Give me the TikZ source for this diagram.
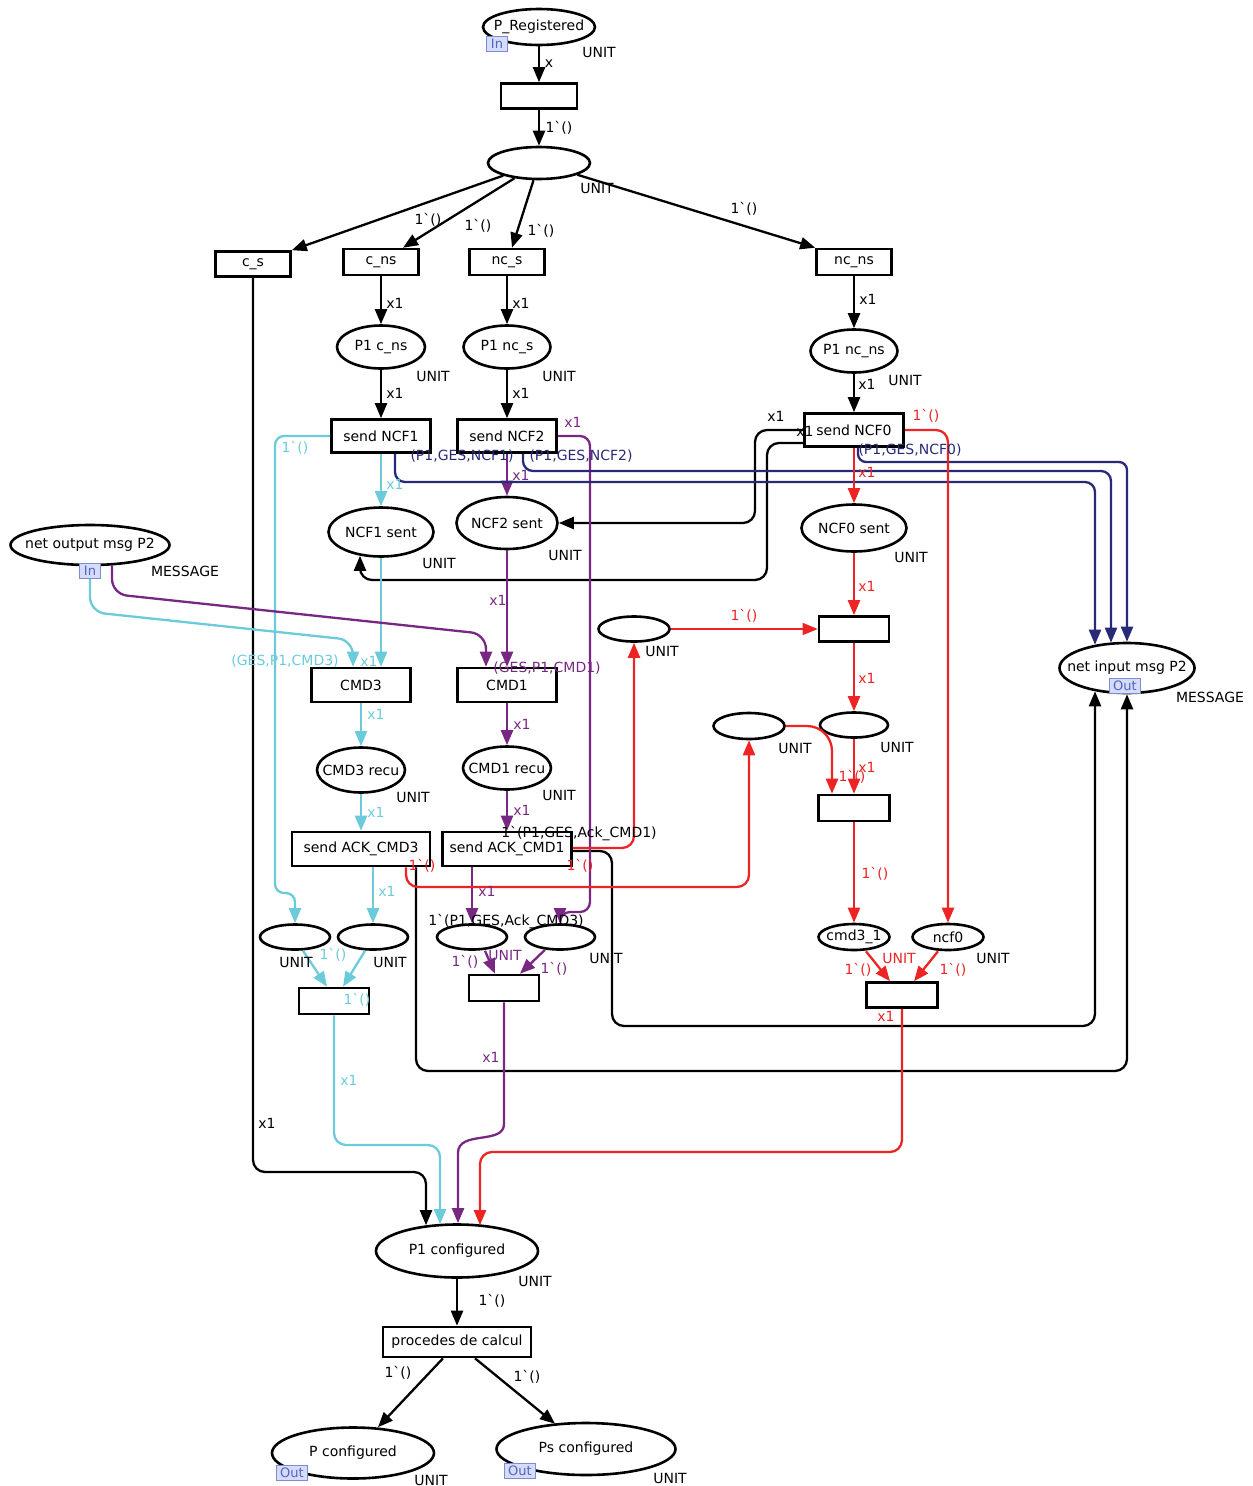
\documentclass[tikz,border=0pt]{standalone}
\usepackage{fontspec}
\newfontfamily\cpnfont{DejaVu Sans}
\usetikzlibrary{shapes.geometric,arrows.meta}
\definecolor{cy}{RGB}{108,203,218}
\definecolor{pu}{RGB}{120,40,130}
\definecolor{nv}{RGB}{40,42,120}
\definecolor{rd}{RGB}{236,36,36}
\definecolor{tagd}{RGB}{120,140,215}
\definecolor{tagf}{RGB}{214,220,245}
\definecolor{tagt}{RGB}{80,100,200}
\newcommand\fs{\cpnfont\fontsize{14}{16}\selectfont}
\newcommand\tk{1\char96()}
\newcounter{lbc}
\newcommand\lbl[3][black]{\stepcounter{lbc}\node[lab,text=#1] (lb\thelbc) at (#2) {#3};}
\tikzset{
 every node/.style={font=\fs},
 pl/.style 2 args={ellipse, draw, line width=2.6pt, minimum width=#1, minimum height=#2, inner sep=0pt, fill=white},
 tr/.style 2 args={rectangle, draw, line width=2.6pt, minimum width=#1, minimum height=#2, inner sep=0pt, fill=white},
 ar/.style={line width=2.3pt, rounded corners=12pt, -{Triangle[length=15pt,width=12pt]}},
 lab/.style={inner sep=0pt, font=\fs},
 tag/.style={draw=tagd, fill=tagf, text=tagt, line width=1pt, inner xsep=4pt, inner ysep=0pt, minimum height=15pt, font=\cpnfont\fontsize{13}{14}\selectfont},
}
\begin{document}
\begin{tikzpicture}[x=1pt,y=-1pt]
\useasboundingbox (0,0) rectangle (1253,1486);
% places
\node[pl={112pt}{36pt},label=center:P\_Registered] (preg) at (539,27) {};
\node[pl={102pt}{32pt}] (p2) at (539,163) {};
\node[pl={88pt}{43pt},label=center:P1 c\_ns] (p1cns) at (381,347) {};
\node[pl={87pt}{43pt},label=center:P1 nc\_s] (p1ncs) at (507,347) {};
\node[pl={87pt}{43pt},label=center:P1 nc\_ns] (p1ncns) at (854,351) {};
\node[pl={105pt}{49pt},label=center:NCF1 sent] (ncf1s) at (381,532) {};
\node[pl={101pt}{52pt},label=center:NCF2 sent] (ncf2s) at (507,523) {};
\node[pl={105pt}{47pt},label=center:NCF0 sent] (ncf0s) at (854,528) {};
\node[pl={159pt}{40pt},label=center:net output msg P2] (netout) at (90,545) {};
\node[pl={135pt}{50pt},label=center:net input msg P2] (netin) at (1127,668) {};
\node[pl={88pt}{45pt},label=center:CMD3 recu] (cmd3r) at (361,770) {};
\node[pl={88pt}{43pt},label=center:CMD1 recu] (cmd1r) at (507,768) {};
\node[pl={70pt}{25pt}] (pA) at (295,937) {};
\node[pl={70pt}{25pt}] (pB) at (373,937) {};
\node[pl={70pt}{25pt}] (pD1) at (472,937) {};
\node[pl={70pt}{25pt}] (pD2) at (560,937) {};
\node[pl={71pt}{25pt}] (pF) at (634,629) {};
\node[pl={71pt}{26pt}] (pH) at (749,726) {};
\node[pl={68pt}{25pt}] (pG) at (854,725) {};
\node[pl={71pt}{26pt},label=center:cmd3\_1] (cmd31) at (854,937) {};
\node[pl={71pt}{26pt},label=center:ncf0] (ncf0) at (948,937) {};
\node[pl={162pt}{53pt},label=center:P1 configured] (p1conf) at (457,1251) {};
\node[pl={162pt}{51pt},label=center:P configured] (pconf) at (353,1453) {};
\node[pl={179pt}{52pt},label=center:Ps configured] (psconf) at (586,1449) {};
% transitions
\node[tr={76pt}{25pt}] (t1) at (539,96) {};
\node[tr={75pt}{25pt}] (cs) at (253,264) {c\_s};
\node[tr={75pt}{26pt}] (cns) at (381,262) {c\_ns};
\node[tr={75pt}{26pt}] (ncs) at (507,262) {nc\_s};
\node[tr={75pt}{26pt}] (ncns) at (854,262) {nc\_ns};
\node[tr={99pt}{33pt}] (sncf1) at (381,436) {send NCF1};
\node[tr={99pt}{33pt}] (sncf2) at (507,436) {send NCF2};
\node[tr={99pt}{33pt}] (sncf0) at (854,430) {send NCF0};
\node[tr={99pt}{34pt}] (cmd3) at (361,685) {CMD3};
\node[tr={99pt}{34pt}] (cmd1) at (507,685) {CMD1};
\node[tr={138pt}{34pt}] (ack3) at (361,849) {send ACK\_CMD3};
\node[tr={129pt}{34pt}] (ack1) at (507,849) {send ACK\_CMD1};
\node[tr={70pt}{26pt}] (tC) at (334,1001) {};
\node[tr={70pt}{26pt}] (tD) at (504,988) {};
\node[tr={70pt}{25pt}] (tE) at (854,629) {};
\node[tr={71pt}{26pt}] (tI) at (854,808) {};
\node[tr={71pt}{25pt}] (tJ) at (902,995) {};
\node[tr={148pt}{30pt}] (proc) at (457,1342) {procedes de calcul};
% black arcs
\draw[ar] (preg) -- (t1);
\draw[ar] (t1) -- (p2);
\draw[ar] (p2) -- (cs.north east);
\draw[ar] (p2) -- ([xshift=22pt]cns.north);
\draw[ar] (p2) -- ([xshift=5pt]ncs.north);
\draw[ar] (p2) -- (ncns.north west);
\draw[ar] (cns) -- (p1cns);
\draw[ar] (p1cns) -- (sncf1);
\draw[ar] (ncs) -- (p1ncs);
\draw[ar] (p1ncs) -- (sncf2);
\draw[ar] (ncns) -- (p1ncns);
\draw[ar] (p1ncns) -- (sncf0);
\draw[ar] (sncf0.west) -- (755,430) -- (755,523) -- (ncf2s.east);
\draw[ar] ([yshift=-13pt]sncf0.west) -- (767,443) -- (767,580) -- (360,580) -- ([xshift=-21pt,yshift=2pt]ncf1s.south);
\draw[ar] (cs.south) -- (253,1172) -- (426,1172) -- ([xshift=-31pt,yshift=-2pt]p1conf.north);
\draw[ar] ([yshift=-2pt]ack1.east) -- (612,851) -- (612,1026) -- (1095,1026) -- ([xshift=-32pt,yshift=3pt]netin.south);
\draw[ar] ([xshift=55pt]ack3.south) -- (416,1071) -- (1127,1071) -- (netin.south);
\draw[ar] (p1conf) -- (proc);
\draw[ar] ([xshift=-14pt]proc.south) -- ([xshift=25pt,yshift=-1pt]pconf.north);
\draw[ar] ([xshift=18pt]proc.south) -- ([xshift=-31pt,yshift=-2pt]psconf.north);
% cyan arcs
\draw[ar,cy] (sncf1) -- (ncf1s);
\draw[ar,cy,rounded corners=9pt] (sncf1.west) -- (275,436) -- (275,893) -- (295,893) -- (pA.north);
\draw[ar,cy] (ncf1s) -- ([xshift=20pt]cmd3.north);
\draw[ar,cy,rounded corners=15pt] (netout.south) -- (90,612) -- (353,640) -- ([xshift=-8pt]cmd3.north);
\draw[ar,cy] (cmd3) -- (cmd3r);
\draw[ar,cy] (cmd3r) -- (ack3.north);
\draw[ar,cy] ([xshift=12pt]ack3.south) -- (pB.north);
\draw[ar,cy] ([xshift=8pt]pA.south) -- ([xshift=-7pt]tC.north);
\draw[ar,cy] ([xshift=-8pt]pB.south) -- ([xshift=9pt]tC.north);
\draw[ar,cy] (tC.south) -- (334,1145) -- (440,1145) -- ([xshift=-17pt,yshift=-1pt]p1conf.north);
% purple arcs
\draw[ar,pu] (sncf2) -- (ncf2s);
\draw[ar,pu,rounded corners=10pt] (sncf2.east) -- (590,436) -- (590,912) -- (560,912) -- (pD2.north);
\draw[ar,pu] (ncf2s) -- (cmd1);
\draw[ar,pu,rounded corners=15pt] ([xshift=22pt,yshift=1pt]netout.south) -- (112,594) -- (486,634) -- ([xshift=-21pt]cmd1.north);
\draw[ar,pu] (cmd1) -- (cmd1r);
\draw[ar,pu] (cmd1r) -- (ack1);
\draw[ar,pu] ([xshift=-35pt]ack1.south) -- (pD1.north);
\draw[ar,pu] ([xshift=13pt]pD1.south) -- ([xshift=-9pt]tD.north);
\draw[ar,pu] ([xshift=-15pt,yshift=1pt]pD2.south) -- ([xshift=16pt]tD.north);
\draw[ar,pu] (tD.south) -- (504,1112) .. controls (504,1145) and (458,1130) .. (458,1165) -- ([xshift=1pt]p1conf.north);
% navy arcs
\draw[ar,nv,rounded corners=10pt] ([xshift=14pt]sncf1.south) -- (395,482) -- (1095,482) -- ([xshift=-32pt,yshift=-3pt]netin.north);
\draw[ar,nv,rounded corners=10pt] ([xshift=16pt]sncf2.south) -- (523,471) -- (1111,471) -- ([xshift=-16pt,yshift=-1pt]netin.north);
\draw[ar,nv,rounded corners=8pt] ([xshift=4pt]sncf0.south) -- (858,462) -- (1127,462) -- (netin.north);
% red arcs
\draw[ar,rd] (sncf0) -- (ncf0s);
\draw[ar,rd] (sncf0.east) -- (948,430) -- (ncf0.north);
\draw[ar,rd] (ncf0s) -- (tE);
\draw[ar,rd,line width=1.2pt] (pF) -- (tE);
\draw[ar,rd] (tE) -- (pG);
\draw[ar,rd,rounded corners=25pt] (pH.east) -- (832,726) -- ([xshift=-22pt]tI.north);
\draw[ar,rd] (pG) -- (tI);
\draw[ar,rd] (tI) -- (cmd31);
\draw[ar,rd] ([xshift=12pt]cmd31.south) -- ([xshift=-12pt]tJ.north);
\draw[ar,rd] ([xshift=-10pt]ncf0.south) -- ([xshift=12pt]tJ.north);
\draw[ar,rd] (tJ.south) -- (902,1152) -- (480,1152) -- ([xshift=23pt,yshift=-2pt]p1conf.north);
\draw[ar,rd] ([yshift=1pt]ack1.east) -- (634,848) -- (pF.south);
\draw[ar,rd] ([xshift=45pt]ack3.south) -- (406,887) -- (749,887) -- (pH.south);
% port tags
\node[tag] (tg1) at (497,44) {In};
\node[tag] (tg2) at (90,571) {In};
\node[tag] (tg3) at (1125,686) {Out};
\node[tag] (tg4) at (292,1473) {Out};
\node[tag] (tg5) at (520,1471) {Out};
% black inscriptions
\lbl{549,64}{x}
\lbl{559,128}{\tk}
\lbl{428,220}{\tk}
\lbl{478,226}{\tk}
\lbl{541,231}{\tk}
\lbl{744,209}{\tk}
\lbl{395,303}{x1}
\lbl{395,393}{x1}
\lbl{521,303}{x1}
\lbl{521,393}{x1}
\lbl{868,299}{x1}
\lbl{867,384}{x1}
\lbl{776,416}{x1}
\lbl{805,431}{x1}
\lbl{267,1123}{x1}
\lbl{579,834}{1\char96(P1,GES,Ack\_CMD1)}
\lbl{506,922}{1\char96(P1,GES,Ack\_CMD3)}
\lbl{492,1301}{\tk}
\lbl{398,1373}{\tk}
\lbl{527,1377}{\tk}
% types
\lbl{599,52}{UNIT}
\lbl{597,188}{UNIT}
\lbl{433,376}{UNIT}
\lbl{559,376}{UNIT}
\lbl{905,380}{UNIT}
\lbl{439,563}{UNIT}
\lbl{565,555}{UNIT}
\lbl{911,557}{UNIT}
\lbl{185,571}{MESSAGE}
\lbl{1210,697}{MESSAGE}
\lbl{413,797}{UNIT}
\lbl{559,795}{UNIT}
\lbl{296,962}{UNIT}
\lbl{390,962}{UNIT}
\lbl{606,958}{UNIT}
\lbl{662,651}{UNIT}
\lbl{795,748}{UNIT}
\lbl{897,747}{UNIT}
\lbl{993,958}{UNIT}
\lbl{535,1281}{UNIT}
\lbl{431,1480}{UNIT}
\lbl{670,1478}{UNIT}
% cyan inscriptions
\lbl[cy]{395,484}{x1}
\lbl[cy]{295,448}{\tk}
\lbl[cy]{369,661}{x1}
\lbl[cy]{285,661}{(GES,P1,CMD3)}
\lbl[cy]{376,714}{x1}
\lbl[cy]{376,812}{x1}
\lbl[cy]{387,891}{x1}
\lbl[cy]{333,955}{\tk}
\lbl[cy]{357,1000}{\tk}
\lbl[cy]{349,1080}{x1}
% purple inscriptions
\lbl[pu]{521,475}{x1}
\lbl[pu]{573,422}{x1}
\lbl[pu]{498,600}{x1}
\lbl[pu]{547,668}{(GES,P1,CMD1)}
\lbl[pu]{522,724}{x1}
\lbl[pu]{522,810}{x1}
\lbl[pu]{487,891}{x1}
\lbl[pu]{465,962}{\tk}
\lbl[pu]{554,969}{\tk}
\lbl[pu]{505,955}{UNIT}
\lbl[pu]{491,1057}{x1}
% navy inscriptions
\lbl[nv]{462,456}{(P1,GES,NCF1)}
\lbl[nv]{581,456}{(P1,GES,NCF2)}
\lbl[nv]{910,450}{(P1,GES,NCF0)}
% red inscriptions
\lbl[rd]{867,472}{x1}
\lbl[rd]{926,416}{\tk}
\lbl[rd]{867,586}{x1}
\lbl[rd]{744,616}{\tk}
\lbl[rd]{867,678}{x1}
\lbl[rd]{867,767}{x1}
\lbl[rd]{852,777}{\tk}
\lbl[rd]{875,874}{\tk}
\lbl[rd]{899,958}{UNIT}
\lbl[rd]{858,970}{\tk}
\lbl[rd]{953,970}{\tk}
\lbl[rd]{886,1016}{x1}
\lbl[rd]{422,866}{\tk}
\lbl[rd]{580,866}{\tk}
\end{tikzpicture}
\end{document}
